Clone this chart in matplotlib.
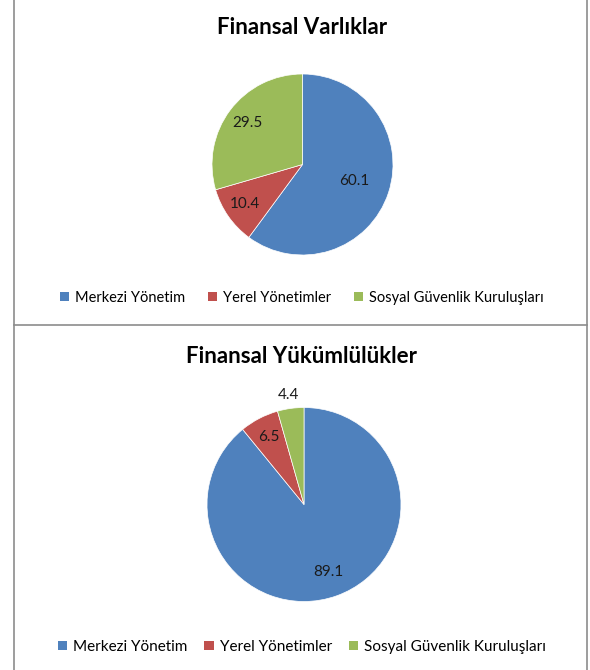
import numpy as np
import matplotlib
matplotlib.use("Agg")
import matplotlib.pyplot as plt
from matplotlib.patches import Patch
from matplotlib.lines import Line2D

plt.rcParams['font.family'] = ['Lato', 'DejaVu Sans']

# veriler
kategoriler = ["Merkezi Yönetim", "Yerel Yönetimler", "Sosyal Güvenlik Kuruluşları"]
varliklar = [60.1, 10.4, 29.5]
yukumlulukler = [89.1, 6.5, 4.4]
renkler = ["#4F81BD", "#C0504D", "#9BBB59"]

W, H = 590, 670
fig = plt.figure(figsize=(W / 100, H / 100), dpi=100)


def px_axes(cx, cy, r):
    # piksel koordinatlarindan eksen kutusu
    return fig.add_axes([(cx - r) / W, (H - (cy + r)) / H, 2 * r / W, 2 * r / H])


def panel(cx, cy, r, degerler, baslik, title_y, leg_y, uzakliklar, leg_fs, col_sp):
    ax = px_axes(cx, cy, r)
    wedges, texts, autotexts = ax.pie(degerler, colors=renkler, startangle=90,
                                      counterclock=False, autopct="%.1f",
                                      wedgeprops=dict(edgecolor="white", linewidth=0.5),
                                      textprops=dict(fontsize=11, color="#1a1a1a"))
    for w, t, d in zip(wedges, autotexts, uzakliklar):
        aci = np.deg2rad((w.theta1 + w.theta2) / 2)
        t.set_position((d * np.cos(aci), d * np.sin(aci)))
    ax.set_xlim(-1, 1)
    ax.set_ylim(-1, 1)
    ax.set_aspect("equal")
    fig.text(302 / W, 1 - title_y / H, baslik, ha="center", va="center",
             fontsize=16, fontweight="bold", color="black")
    handles = [Patch(facecolor=c, edgecolor="none") for c in renkler]
    fig.legend(handles, kategoriler, loc="center", bbox_to_anchor=(302 / W, 1 - leg_y / H),
               ncol=3, frameon=False, fontsize=leg_fs, handlelength=0.6, handleheight=0.6,
               handletextpad=0.4, columnspacing=col_sp, borderpad=0)


panel(302.5, 164.5, 90.5, varliklar, "Finansal Varlıklar", 27, 298, [0.6, 0.77, 0.76], 10.5, 1.6)
panel(304, 504.5, 97, yukumlulukler, "Finansal Yükümlülükler", 356, 647, [0.74, 0.78, 1.14], 11, 1.1)

# cerceve cizgileri
gri = "#8c8c8c"
fig.add_artist(Line2D([14 / W, 14 / W], [0, 1], color=gri, lw=1.2))
fig.add_artist(Line2D([587 / W, 587 / W], [0, 1], color=gri, lw=1.2))
fig.add_artist(Line2D([14 / W, 587 / W], [1 - 325 / H, 1 - 325 / H], color=gri, lw=1.2))

fig.savefig("out.png", dpi=100)
